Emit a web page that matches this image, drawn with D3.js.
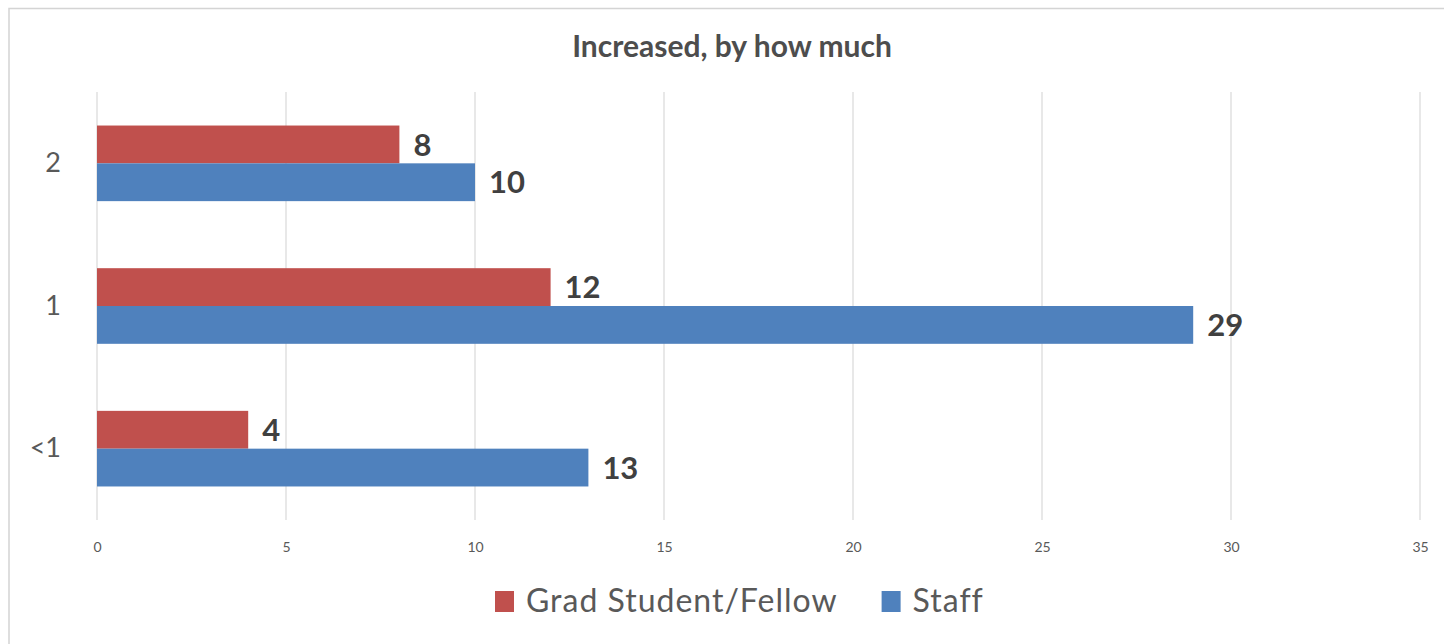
<!DOCTYPE html>
<html>
<head>
<meta charset="utf-8">
<script src="https://cdn.jsdelivr.net/npm/d3@7"></script>
<style>
  html, body { margin: 0; padding: 0; background: #ffffff; }
  svg { display: block; font-family: Lato, "Open Sans", sans-serif; }
</style>
</head>
<body>
<svg id="chart" width="1444" height="644"></svg>
<script>
// Categories, top to bottom
const categories = ["2", "1", "<1"];
const seriesNames = ["Grad Student/Fellow", "Staff"];
const gradValues = [8, 12, 4];
const staffValues = [10, 29, 13];
const xTicks = [0, 5, 10, 15, 20, 25, 30, 35];
const seriesColors = ["#C0504D", "#4F81BD"];

const svg = d3.select("#chart");
const W = 1444, H = 644;
const margin = { left: 97, right: 24, top: 92, bottom: 124 };

// Chart frame
svg.append("rect")
  .attr("x", 9).attr("y", 8.5)
  .attr("width", W + 20).attr("height", H + 20)
  .attr("fill", "#fff").attr("stroke", "#d4d4d4").attr("stroke-width", 1.5);

const x = d3.scaleLinear().domain([0, 35]).range([margin.left, 1420]);
const y = d3.scaleBand().domain(categories).range([margin.top, H - margin.bottom]).paddingInner(0.47).paddingOuter(0.235);
const sub = d3.scaleBand().domain(seriesNames).range([0, y.bandwidth()]);

// Vertical gridlines
svg.append("g")
  .selectAll("line").data(xTicks).join("line")
  .attr("x1", d => x(d)).attr("x2", d => x(d))
  .attr("y1", margin.top).attr("y2", H - margin.bottom)
  .attr("stroke", "#d9d9d9").attr("stroke-width", 1.2);

// X axis tick labels
const xAxis = d3.axisBottom(x).tickValues(xTicks).tickSize(0).tickPadding(0);
const gx = svg.append("g").attr("transform", `translate(0,${H - margin.bottom + 22})`).call(xAxis);
gx.select(".domain").remove();
gx.selectAll("text").attr("font-size", 14).attr("fill", "#595959").attr("font-family", "Lato, sans-serif");

// Y axis category labels
const yAxis = d3.axisLeft(y).tickSize(0).tickPadding(36);
const gy = svg.append("g").attr("transform", `translate(${margin.left},0)`).call(yAxis);
gy.select(".domain").remove();
gy.selectAll("text").attr("font-size", 27).attr("fill", "#595959").attr("font-family", "Lato, sans-serif");

// Bars
const rows = categories.map((c, i) => ({ cat: c, vals: [gradValues[i], staffValues[i]] }));
const groups = svg.append("g").selectAll("g").data(rows).join("g")
  .attr("transform", d => `translate(0,${y(d.cat)})`);

groups.selectAll("rect").data(d => d.vals.map((v, j) => ({ v, s: seriesNames[j], j }))).join("rect")
  .attr("x", x(0))
  .attr("y", d => sub(d.s))
  .attr("width", d => x(d.v) - x(0))
  .attr("height", sub.bandwidth())
  .attr("fill", d => seriesColors[d.j]);

// Value labels
groups.selectAll("text").data(d => d.vals.map((v, j) => ({ v, s: seriesNames[j], j }))).join("text")
  .attr("x", d => x(d.v) + 14)
  .attr("y", d => sub(d.s) + sub.bandwidth() / 2)
  .attr("dy", "0.36em")
  .attr("font-size", 31).attr("font-weight", "bold").attr("fill", "#404040")
  .text(d => d.v);

// Title
svg.append("text")
  .attr("x", 732).attr("y", 57)
  .attr("text-anchor", "middle")
  .attr("font-size", 30).attr("font-weight", "bold").attr("fill", "#4d4d4d")
  .text("Increased, by how much");

// Legend
const legend = svg.append("g").attr("transform", "translate(495,0)");
const legendItems = legend.selectAll("g").data(seriesNames).join("g");
legendItems.append("rect")
  .attr("y", 591).attr("width", 19).attr("height", 21)
  .attr("fill", (d, i) => seriesColors[i]);
legendItems.append("text")
  .attr("x", 31).attr("y", 612)
  .attr("font-size", 32).attr("letter-spacing", 1).attr("fill", "#595959")
  .text(d => d);
let offset = 0;
legendItems.each(function () {
  d3.select(this).attr("transform", `translate(${offset},0)`);
  offset += this.getBBox().width + 44;
});
</script>
</body>
</html>
